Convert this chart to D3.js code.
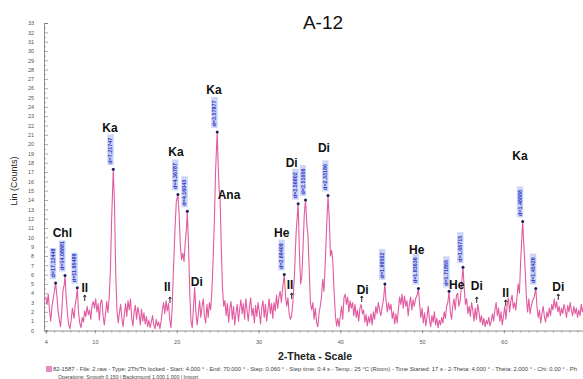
<!DOCTYPE html>
<html>
<head>
<meta charset="utf-8">
<script src="https://cdn.jsdelivr.net/npm/d3@7/dist/d3.min.js"></script>
<style>
  body { margin: 0; background: #fff; }
  text { font-family: "Liberation Sans", Arial, sans-serif; }
</style>
</head>
<body>
<script>
// Scan: [2-theta, Lin (Counts)]
const scan = [
  [4.00,3.6],[4.15,2.8],[4.30,3.9],[4.45,2.2],[4.60,1.0],[4.75,2.6],[4.90,3.4],[5.05,4.2],[5.20,5.1],[5.35,3.8],
  [5.50,2.1],[5.65,1.2],[5.80,0.4],[5.95,2.0],[6.10,4.3],[6.25,4.9],[6.35,5.9],[6.50,3.5],[6.65,1.8],[6.80,0.6],
  [6.95,0.2],[7.10,1.1],[7.25,2.4],[7.45,1.3],[7.60,2.8],[7.75,3.6],[7.85,4.6],[8.00,2.0],[8.15,0.8],[8.30,0.3],
  [8.45,1.4],[8.60,0.9],[8.75,2.1],[8.90,1.5],[9.05,2.6],[9.20,1.7],[9.35,2.2],[9.50,1.2],[9.65,2.7],[9.80,3.1],
  [9.95,2.4],[10.10,3.4],[10.25,2.0],[10.40,2.9],[10.55,1.1],[10.70,3.0],[10.85,3.3],[11.00,1.6],[11.15,0.6],[11.30,1.8],
  [11.45,3.1],[11.60,1.9],[11.75,3.6],[11.90,6.5],[12.05,12.0],[12.25,17.3],[12.40,13.5],[12.55,6.0],[12.70,2.2],[12.85,0.8],
  [13.00,1.9],[13.15,2.8],[13.30,1.3],[13.45,0.4],[13.60,1.7],[13.75,2.9],[13.90,1.5],[14.05,3.2],[14.20,2.2],[14.35,3.4],
  [14.50,1.4],[14.65,0.5],[14.80,2.0],[14.95,2.7],[15.10,1.2],[15.25,2.5],[15.40,1.8],[15.55,0.6],[15.70,2.3],[15.85,1.0],
  [16.00,1.9],[16.15,0.7],[16.30,1.5],[16.45,0.4],[16.60,1.1],[16.75,0.3],[16.90,0.9],[17.05,1.6],[17.20,0.6],[17.35,0.2],
  [17.50,1.2],[17.65,0.5],[17.80,0.9],[17.95,0.2],[18.10,1.0],[18.25,2.2],[18.40,3.0],[18.55,1.8],[18.70,3.2],[18.85,2.1],
  [19.00,2.9],[19.15,1.2],[19.30,0.3],[19.45,2.5],[19.60,6.5],[19.80,11.0],[19.95,13.8],[20.15,14.6],[20.30,12.5],[20.45,9.0],
  [20.60,7.6],[20.75,8.3],[20.90,7.4],[21.05,9.5],[21.20,11.0],[21.30,12.8],[21.45,9.0],[21.60,4.0],[21.75,1.0],[21.90,0.3],
  [22.05,2.5],[22.20,4.6],[22.35,2.0],[22.50,0.6],[22.65,1.8],[22.80,3.2],[22.95,1.4],[23.10,2.6],[23.25,3.4],[23.40,1.5],
  [23.55,0.8],[23.70,2.8],[23.85,1.4],[24.00,3.0],[24.15,2.2],[24.30,4.2],[24.45,7.5],[24.60,11.5],[24.75,17.0],[24.95,21.3],
  [25.10,17.0],[25.20,15.0],[25.30,14.3],[25.45,9.0],[25.60,4.5],[25.75,2.6],[25.90,3.2],[26.05,1.6],[26.20,2.9],[26.35,0.9],
  [26.50,2.4],[26.65,3.1],[26.80,1.2],[26.95,2.6],[27.10,0.6],[27.25,1.9],[27.40,2.8],[27.55,1.0],[27.70,2.3],[27.85,3.3],
  [28.00,1.8],[28.15,2.9],[28.30,1.2],[28.45,3.4],[28.60,2.2],[28.75,1.0],[28.90,2.6],[29.05,3.5],[29.20,1.6],[29.35,2.4],
  [29.50,0.8],[29.65,2.7],[29.80,1.5],[29.95,3.0],[30.10,2.0],[30.25,0.7],[30.40,2.5],[30.55,3.2],[30.70,1.4],[30.85,2.8],
  [31.00,1.0],[31.15,2.2],[31.30,3.4],[31.45,1.8],[31.60,2.9],[31.75,1.3],[31.90,3.0],[32.05,2.1],[32.20,3.8],[32.35,2.4],
  [32.50,3.6],[32.65,4.2],[32.80,3.0],[32.95,4.5],[33.15,6.0],[33.30,3.8],[33.45,2.6],[33.60,3.5],[33.75,1.8],[33.90,1.2],
  [34.05,1.6],[34.20,3.0],[34.40,6.0],[34.60,10.5],[34.85,13.6],[35.00,8.5],[35.15,5.0],[35.30,5.8],[35.45,9.0],[35.60,12.5],
  [35.75,14.0],[35.90,11.5],[36.05,10.2],[36.20,6.5],[36.35,3.0],[36.50,2.2],[36.65,3.0],[36.80,1.2],[36.95,2.4],[37.10,0.9],
  [37.25,0.4],[37.40,1.8],[37.55,2.6],[37.70,3.6],[37.85,5.5],[38.00,4.2],[38.15,7.0],[38.30,10.5],[38.50,14.5],[38.65,12.0],
  [38.80,8.0],[38.95,8.6],[39.10,7.2],[39.25,4.0],[39.40,1.6],[39.55,0.5],[39.70,1.3],[39.85,0.4],[40.00,1.5],[40.15,2.6],
  [40.30,1.2],[40.45,3.5],[40.60,3.9],[40.75,2.8],[40.90,3.6],[41.05,2.0],[41.20,3.2],[41.35,2.4],[41.50,3.0],[41.65,1.6],
  [41.80,2.8],[41.95,1.4],[42.10,2.2],[42.25,1.0],[42.40,2.4],[42.55,2.8],[42.70,1.8],[42.85,2.2],[43.00,0.9],[43.15,1.7],
  [43.30,0.5],[43.45,1.5],[43.60,0.8],[43.75,1.8],[43.90,0.6],[44.05,2.0],[44.20,1.2],[44.35,2.6],[44.50,1.8],[44.65,3.0],
  [44.80,2.2],[44.95,1.6],[45.10,2.4],[45.30,3.5],[45.45,5.0],[45.60,3.2],[45.75,2.0],[45.90,3.0],[46.05,2.2],[46.20,2.8],
  [46.35,1.3],[46.50,2.0],[46.65,0.7],[46.80,1.8],[46.95,0.8],[47.10,2.2],[47.25,3.6],[47.40,2.8],[47.55,3.9],[47.70,2.4],
  [47.85,3.7],[48.00,2.6],[48.15,3.2],[48.30,1.6],[48.45,2.8],[48.60,3.6],[48.75,2.2],[48.90,3.3],[49.05,2.6],[49.20,3.4],
  [49.40,3.8],[49.55,4.5],[49.70,2.8],[49.85,1.4],[50.00,2.4],[50.15,0.8],[50.30,1.9],[50.45,0.5],[50.60,1.4],[50.75,2.6],
  [50.90,1.2],[51.05,0.4],[51.20,1.6],[51.35,0.9],[51.50,2.0],[51.65,0.6],[51.80,1.3],[51.95,0.3],[52.10,1.1],[52.25,0.6],
  [52.40,1.4],[52.55,0.8],[52.70,2.0],[52.85,1.3],[53.00,2.6],[53.15,3.0],[53.30,4.2],[53.45,2.0],[53.60,1.2],[53.75,2.6],
  [53.90,3.4],[54.05,2.2],[54.20,3.8],[54.35,4.0],[54.50,2.6],[54.65,3.2],[54.80,4.6],[55.00,6.8],[55.15,4.5],[55.30,2.8],
  [55.45,3.4],[55.60,1.8],[55.75,2.6],[55.90,1.5],[56.05,3.0],[56.20,2.2],[56.35,1.0],[56.50,2.4],[56.65,1.2],[56.80,2.8],
  [56.95,2.0],[57.10,0.9],[57.25,1.6],[57.40,0.6],[57.55,1.3],[57.70,0.4],[57.85,1.1],[58.00,0.7],[58.15,1.4],[58.30,0.5],
  [58.45,1.0],[58.60,1.8],[58.75,1.0],[58.90,2.2],[59.05,3.0],[59.20,1.6],[59.35,2.4],[59.50,1.0],[59.65,2.0],[59.80,0.6],
  [59.95,1.5],[60.10,2.6],[60.25,1.2],[60.40,2.8],[60.55,3.5],[60.70,2.0],[60.85,3.2],[61.00,3.8],[61.15,2.4],[61.30,3.0],
  [61.45,2.2],[61.60,3.6],[61.75,5.0],[61.90,4.0],[62.05,7.5],[62.30,11.7],[62.45,9.0],[62.60,6.5],[62.75,3.5],[62.90,2.0],
  [63.05,3.4],[63.20,1.8],[63.35,2.6],[63.50,3.2],[63.70,3.6],[63.90,4.5],[64.05,2.5],[64.20,1.4],[64.35,2.2],[64.50,0.8],
  [64.65,1.8],[64.80,2.6],[64.95,1.5],[65.10,0.9],[65.25,2.0],[65.40,1.4],[65.55,2.4],[65.70,1.6],[65.85,2.8],[66.00,2.2],
  [66.15,3.4],[66.30,2.4],[66.45,3.1],[66.60,2.0],[66.75,2.6],[66.90,1.6],[67.05,2.4],[67.20,1.8],[67.35,2.8],[67.50,2.2],
  [67.65,1.4],[67.80,2.7],[67.95,2.0],[68.10,3.0],[68.25,2.2],[68.40,1.6],[68.55,2.6],[68.70,1.8],[68.85,2.4],[69.00,1.4],
  [69.15,2.2],[69.30,1.6],[69.45,2.8],[69.60,2.0],[69.75,2.6],[69.90,1.8],[70.00,2.3]
];

// Peak picks (d-spacing labels)
const peakAngles = [5.2, 6.35, 7.85, 12.25, 20.15, 21.3, 24.95, 33.15, 34.85, 35.75, 38.5, 45.45, 49.55, 53.3, 55.0, 62.3, 63.9];
const peakCounts = [5.1, 5.9, 4.6, 17.3, 14.6, 12.8, 21.3, 6.0, 13.6, 14.0, 14.5, 5.0, 4.5, 4.2, 6.8, 11.7, 4.5];
const peakD = ["d=17.12448", "d=14.08881", "d=11.95489", "d=7.21747", "d=4.36787", "d=4.16043", "d=3.57877",
  "d=2.69409", "d=2.56802", "d=2.51006", "d=2.33186", "d=1.99502", "d=1.83636", "d=1.71865", "d=1.66715",
  "d=1.48888", "d=1.45426"];

// Phase names
const phaseNames = ["Chl", "Il", "Ka", "Ka", "Ka", "Ana", "Il", "Di", "He", "Di", "Di", "Il", "Di", "He", "He", "Di", "Il", "Ka", "Di"];
const phaseAngles = [6.02, 8.76, 11.85, 19.92, 24.56, 26.4, 18.85, 22.45, 32.84, 34.06, 38.0, 33.85, 42.74, 49.34, 54.23, 56.68, 60.22, 61.97, 66.65];
const phaseCounts = [10.45, 4.64, 21.78, 19.2, 25.83, 14.55, 4.7, 5.24, 10.5, 17.96, 19.57, 4.89, 4.43, 8.72, 4.89, 4.78, 4.06, 18.78, 4.7];

// Small marker arrows
const markAngles = [8.76, 19.18, 34.06, 42.62, 56.68, 60.22, 66.65];
const markCounts = [3.81, 3.6, 4.03, 3.7, 3.6, 3.28, 3.92];

const xTicks = [4, 10, 20, 30, 40, 50, 60];

// Constants
const width = 583;
const height = 379;

const svg = d3.select('body')
  .append('svg')
  .attr('width', width)
  .attr('height', height);

// Scales
const x = d3.scaleLinear().domain([4, 70]).range([45.8, 585.7]);
const y = d3.scaleLinear().domain([0, 33]).range([330.5, 23]);

// Title
svg.append('text')
  .attr('x', 323).attr('y', 29)
  .attr('text-anchor', 'middle')
  .attr('font-size', 19)
  .attr('fill', '#111')
  .text('A-12');

// Y axis
svg.append('g')
  .attr('transform', 'translate(44,0)')
  .call(d3.axisLeft(y).tickValues(d3.range(0, 34)).tickSize(-4).tickPadding(10));
svg.append('g')
  .attr('transform', 'translate(44,0)')
  .call(d3.axisLeft(y).tickValues(d3.range(0.5, 33, 1)).tickSize(-2).tickFormat(''))
  .call(g => g.select('.domain').remove());

// X axis
svg.append('g')
  .attr('transform', 'translate(0,330.5)')
  .call(d3.axisBottom(x).tickValues(xTicks).tickSize(3).tickPadding(7));
svg.append('g')
  .attr('transform', 'translate(0,330.5)')
  .call(d3.axisBottom(x).tickValues(d3.range(5, 70, 1)).tickSize(2).tickFormat(''))
  .call(g => g.select('.domain').remove());

svg.selectAll('.domain').attr('stroke', '#777').attr('stroke-width', 0.8);
svg.selectAll('.tick line').attr('stroke', '#777').attr('stroke-width', 0.6);
svg.selectAll('.tick text')
  .attr('font-size', 5.5)
  .attr('fill', '#555')
  .attr('font-family', '"Liberation Sans", Arial, sans-serif');

// Axis titles
svg.append('text')
  .attr('transform', 'translate(17,181) rotate(-90)')
  .attr('text-anchor', 'middle')
  .attr('font-size', 9)
  .attr('fill', '#222')
  .text('Lin (Counts)');

svg.append('text')
  .attr('x', 315).attr('y', 360)
  .attr('text-anchor', 'middle')
  .attr('font-size', 10.5)
  .attr('font-weight', 600)
  .attr('fill', '#222')
  .text('2-Theta - Scale');

// Scan line
const line = d3.line()
  .x(d => x(d[0]))
  .y(d => y(d[1]));

svg.append('path')
  .datum(scan)
  .attr('fill', 'none')
  .attr('stroke', '#e25ba0')
  .attr('stroke-width', 1.1)
  .attr('stroke-linejoin', 'round')
  .attr('d', line);

// Peak d-spacing labels
const peaks = svg.append('g')
  .selectAll('g')
  .data(peakAngles)
  .join('g')
  .attr('transform', (d, i) => `translate(${x(d)},${y(peakCounts[i])})`);

peaks.append('rect')
  .attr('x', -5.9).attr('y', -35)
  .attr('width', 6.4).attr('height', 31)
  .attr('fill', '#cfd5f7');

peaks.append('text')
  .attr('transform', 'translate(-1.0,-5.5) rotate(-90)')
  .attr('font-size', 5.4)
  .attr('font-weight', 'bold')
  .attr('fill', '#2436c4')
  .text((d, i) => peakD[i]);

peaks.append('circle')
  .attr('r', 1.5)
  .attr('fill', '#1a1f5c');

// Phase labels
svg.append('g')
  .selectAll('text')
  .data(phaseNames)
  .join('text')
  .attr('x', (d, i) => x(phaseAngles[i]))
  .attr('y', (d, i) => y(phaseCounts[i]))
  .attr('dy', '0.36em')
  .attr('text-anchor', 'middle')
  .attr('font-size', 12)
  .attr('font-weight', 'bold')
  .attr('fill', '#111')
  .text(d => d);

// Marker arrows
svg.append('g')
  .selectAll('path')
  .data(markAngles)
  .join('path')
  .attr('transform', (d, i) => `translate(${x(d)},${y(markCounts[i])})`)
  .attr('d', 'M0,0 L0,6 M-1.3,2 L0,0 L1.3,2')
  .attr('stroke', '#111')
  .attr('stroke-width', 0.9)
  .attr('fill', 'none');

// Footer
svg.append('rect')
  .attr('x', 46).attr('y', 366)
  .attr('width', 6).attr('height', 6)
  .attr('fill', '#e58cc4');

svg.append('text')
  .attr('x', 53).attr('y', 371)
  .attr('font-size', 5.2)
  .attr('fill', '#444')
  .attr('textLength', 524)
  .attr('lengthAdjust', 'spacingAndGlyphs')
  .text('82-1587 - File: 2.raw - Type: 2Th/Th locked - Start: 4.000 \u00b0 - End: 70.000 \u00b0 - Step: 0.060 \u00b0 - Step time: 0.4 s - Temp.: 25 \u00b0C (Room) - Time Started: 17 s - 2-Theta: 4.000 \u00b0 - Theta: 2.000 \u00b0 - Chi: 0.00 \u00b0 - Ph');

svg.append('text')
  .attr('x', 58).attr('y', 378.5)
  .attr('font-size', 5.2)
  .attr('fill', '#444')
  .text('Operations: Smooth 0.150 | Background 1.000,1.000 | Import');
</script>
</body>
</html>
